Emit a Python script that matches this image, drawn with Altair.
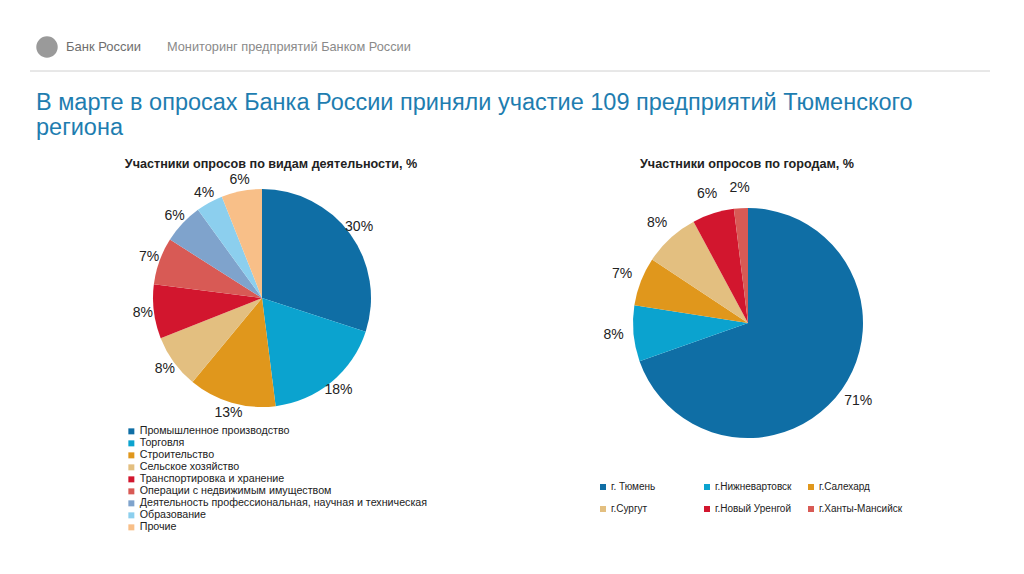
import altair as alt
import pandas as pd

# ---- data ----
ind_names = ["Промышленное производство", "Торговля", "Строительство", "Сельское хозяйство",
             "Транспортировка и хранение", "Операции с недвижимым имуществом",
             "Деятельность профессиональная, научная и техническая", "Образование", "Прочие"]
ind_values = [30, 18, 13, 8, 8, 7, 6, 4, 6]
ind_colors = ["#0f6ea5", "#0ba3cf", "#e0971c", "#e3bf80", "#d2162e", "#d85a55",
              "#7fa3cc", "#8ccfee", "#f8bf88"]

city_names = ["г. Тюмень", "г.Нижневартовск", "г.Салехард", "г.Сургут",
              "г.Новый Уренгой", "г.Ханты-Мансийск"]
city_values = [71, 8, 7, 8, 6, 2]
city_colors = ["#0f6ea5", "#0ba3cf", "#e0971c", "#e3bf80", "#d2162e", "#d85a55"]
# legend reading order (3 columns, filled column by column)
city_legend_order = [0, 3, 1, 4, 2, 5]

header_brand = ["Банк России"]
header_section = ["Мониторинг предприятий Банком России"]
title_lines = ["В марте в опросах Банка России приняли участие 109 предприятий Тюменского", "региона"]
sub1 = ["Участники опросов по видам деятельности, %"]
sub2 = ["Участники опросов по городам, %"]

FONT = "Liberation Sans"

ind_df = pd.DataFrame({"name": ind_names, "val": ind_values, "ord": list(range(len(ind_names)))})
ind_df["lbl"] = ind_df["val"].astype(str) + "%"
city_df = pd.DataFrame({"name": city_names, "val": city_values, "ord": list(range(len(city_names)))})
city_df["lbl"] = city_df["val"].astype(str) + "%"

city_dom = [city_names[i] for i in city_legend_order]
city_rng = [city_colors[i] for i in city_legend_order]

one = alt.Data(values=[{"a": 1}])

logo = alt.Chart(one).mark_circle(color="#9a9a9a", opacity=1, size=460).encode(
    x=alt.value(39), y=alt.value(39))

brand = alt.Chart(pd.DataFrame({"t": header_brand})).mark_text(
    font=FONT, fontSize=13, color="#6e6e6e", align="left", baseline="middle").encode(
    x=alt.value(58), y=alt.value(39), text="t:N")

section = alt.Chart(pd.DataFrame({"t": header_section})).mark_text(
    font=FONT, fontSize=12.75, color="#8a8a8a", align="left", baseline="middle").encode(
    x=alt.value(159), y=alt.value(39), text="t:N")

rule = alt.Chart(one).mark_rule(color="#d0d0d0", strokeWidth=1).encode(
    x=alt.value(22), x2=alt.value(982), y=alt.value(63))

title = alt.Chart(pd.DataFrame({"t": [title_lines]})).mark_text(
    font=FONT, fontSize=23.5, color="#1e7db0", align="left", baseline="alphabetic",
    lineHeight=25).encode(x=alt.value(28), y=alt.value(102), text="t")

s1 = alt.Chart(pd.DataFrame({"t": sub1})).mark_text(
    font=FONT, fontSize=12.6, fontWeight="bold", color="#222222", align="center",
    baseline="middle").encode(x=alt.value(263), y=alt.value(156), text="t:N")

s2 = alt.Chart(pd.DataFrame({"t": sub2})).mark_text(
    font=FONT, fontSize=12.6, fontWeight="bold", color="#222222", align="center",
    baseline="middle").encode(x=alt.value(739), y=alt.value(156), text="t:N")

# industry pie
ind_base = alt.Chart(ind_df).encode(
    theta=alt.Theta("val:Q", stack=True),
    order=alt.Order("ord:Q"),
)
ind_arc = ind_base.mark_arc(radius=109).encode(
    x=alt.value(254), y=alt.value(290),
    color=alt.Color("name:N", scale=alt.Scale(domain=ind_names, range=ind_colors),
                    sort=ind_names,
                    legend=alt.Legend(title=None, orient="none", legendX=118, legendY=418,
                                      symbolType="square", symbolSize=36, labelFont=FONT,
                                      labelFontSize=10.7, labelColor="#222222",
                                      labelLimit=400, rowPadding=0, labelOffset=3)),
)
ind_txt = ind_base.mark_text(font=FONT, fontSize=14, color="#222222").encode(
    x=alt.value(254), y=alt.value(290), radius=alt.value(120), text="lbl:N")

# city pie
city_base = alt.Chart(city_df).encode(
    theta=alt.Theta("val:Q", stack=True),
    order=alt.Order("ord:Q"),
)
city_arc = city_base.mark_arc(radius=115).encode(
    x=alt.value(740), y=alt.value(315),
    color=alt.Color("name:N", scale=alt.Scale(domain=city_dom, range=city_rng),
                    sort=city_dom,
                    legend=alt.Legend(title=None, orient="none", legendX=590, legendY=474,
                                      columns=3, gridAlign="all", columnPadding=7,
                                      symbolType="square", symbolSize=36, labelFont=FONT,
                                      labelFontSize=10, labelColor="#222222",
                                      labelLimit=400, rowPadding=12, labelOffset=3)),
)
city_txt = city_base.mark_text(font=FONT, fontSize=14, color="#222222").encode(
    x=alt.value(740), y=alt.value(315), radius=alt.value(135), text="lbl:N")

chart = alt.layer(
    logo, brand, section, rule, title, s1, s2,
    ind_arc, ind_txt, city_arc, city_txt,
).resolve_scale(
    theta="independent", color="independent"
).properties(
    width=1008, height=558, padding=0, autosize=alt.AutoSizeParams(type="none"),
    background="white"
).configure_view(stroke=None)

chart.save("out.html", embed_options={"renderer": "svg", "actions": False})
